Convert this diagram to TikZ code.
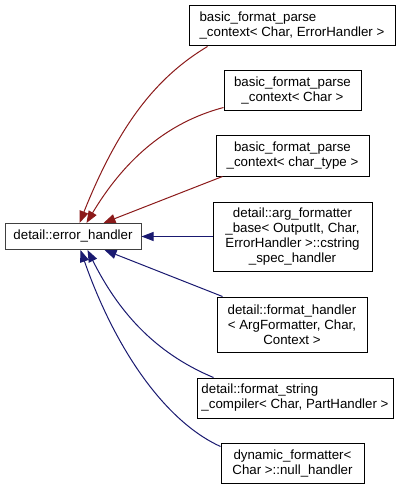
\documentclass[tikz,border=0pt]{standalone}
\usepackage{fontspec}
\setmainfont{Liberation Sans}
\usetikzlibrary{arrows.meta,calc}
\definecolor{inhred}{HTML}{8B1A1A}
\definecolor{inhblue}{HTML}{191970}

\begin{document}
\begin{tikzpicture}[x=1pt,y=-1pt,
  cls/.style={draw=black,line width=1pt,fill=white,inner sep=0pt,
              font=\fontsize{13.3}{15}\selectfont,align=center},
  redarr/.style={inhred,line width=1pt,-{Triangle[length=12pt,width=9pt]}},
  bluearr/.style={inhblue,line width=1pt,-{Triangle[length=12pt,width=9pt]}}]
 \useasboundingbox (0,0) rectangle (401,489);
 % base class
 \node[cls,draw=black!75,minimum width=136pt,minimum height=26pt] (main) at (73,236.5) {detail::error\_handler};
 % derived classes
 \node[cls,align=left,minimum width=206pt,minimum height=40pt] (b1) at (292,26)
   {basic\_format\_parse\\\_context< Char, ErrorHandler >};
 \node[cls,minimum width=137pt,minimum height=40pt] (b2) at (292.5,91)
   {basic\_format\_parse\\\_context< Char >};
 \node[cls,minimum width=153pt,minimum height=40pt] (b3) at (292.5,156)
   {basic\_format\_parse\\\_context< char\_type >};
 \node[cls,minimum width=159pt,minimum height=69pt] (b4) at (292.5,236.5)
   {detail::arg\_formatter\\\_base< OutputIt, Char,\\ErrorHandler >::cstring\\\_spec\_handler};
 \node[cls,minimum width=150pt,minimum height=55pt] (b5) at (292,324.5)
   {detail::format\_handler\\< ArgFormatter, Char,\\Context >};
 \node[cls,align=left,minimum width=196pt,minimum height=40pt] (b6) at (295,398)
   {detail::format\_string\\\_compiler< Char, PartHandler >};
 \node[cls,minimum width=143pt,minimum height=40pt] (b7) at (292.5,463)
   {dynamic\_formatter<\\Char >::null\_handler};
 % inheritance arrows
 \draw[redarr] ($(b1.south west)+(19,0)$) .. controls +(-50,30) and +(40,-100) .. ($(main.north west)+(75,0)$);
 \draw[redarr] ($(b2.south west)+(0,-4)$) .. controls +(-45,12) and +(45,-75) .. ($(main.north west)+(82,0)$);
 \draw[redarr] ($(b3.south west)+(7,0)$) -- ($(main.north west)+(99,0)$);
 \draw[bluearr] (b4.west) -- (main.east);
 \draw[bluearr] ($(b5.north west)+(6,0)$) -- ($(main.south west)+(100,0)$);
 \draw[bluearr] ($(b6.north west)+(17,0)$) .. controls +(-60,-25) and +(30,60) .. ($(main.south west)+(83,0)$);
 \draw[bluearr] ($(b7.north west)+(0,4)$) .. controls +(-55,-25) and +(35,100) .. ($(main.south west)+(76,0)$);
\end{tikzpicture}
\end{document}
